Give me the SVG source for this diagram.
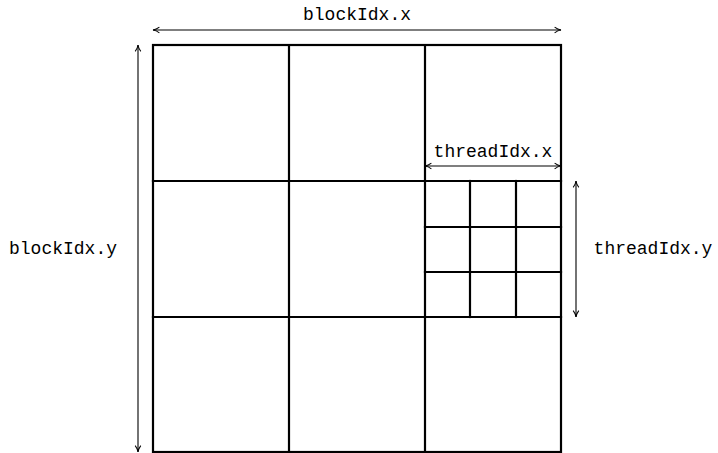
<svg xmlns="http://www.w3.org/2000/svg" width="718" height="453" viewBox="0 0 718 453">
<style>
.g{stroke:#000;stroke-width:2.2;fill:none;stroke-linecap:square}
.a{stroke:#000;stroke-width:1.1;fill:none}
text{font-family:"Liberation Mono","DejaVu Sans Mono",monospace;font-size:18px;fill:#000}
</style>
<defs>
<marker id="ah" viewBox="0 0 10 10" refX="9" refY="5" markerWidth="8" markerHeight="8" markerUnits="userSpaceOnUse" orient="auto-start-reverse">
<path d="M1,1.5 Q5,4.5 9,5 Q5,5.5 1,8.5" fill="none" stroke="#000" stroke-width="1.3"/>
</marker>
</defs>
<g id="grid">
<rect class="g" x="153" y="45" width="408" height="407"/>
<line class="g" x1="289" y1="45" x2="289" y2="452"/>
<line class="g" x1="425" y1="45" x2="425" y2="452"/>
<line class="g" x1="153" y1="181" x2="561" y2="181"/>
<line class="g" x1="153" y1="317" x2="561" y2="317"/>
</g>
<g id="threadblock">
<line class="g" x1="470" y1="181" x2="470" y2="317"/>
<line class="g" x1="516" y1="181" x2="516" y2="317"/>
<line class="g" x1="425" y1="227" x2="561" y2="227"/>
<line class="g" x1="425" y1="272" x2="561" y2="272"/>
</g>
<g id="connectors">
<line class="a" x1="153" y1="30" x2="561" y2="30" marker-start="url(#ah)" marker-end="url(#ah)"/>
<line class="a" x1="138" y1="45" x2="138" y2="452" marker-start="url(#ah)" marker-end="url(#ah)"/>
<line class="a" x1="425" y1="166" x2="561" y2="166" marker-start="url(#ah)" marker-end="url(#ah)"/>
<line class="a" x1="576" y1="181" x2="576" y2="317" marker-start="url(#ah)" marker-end="url(#ah)"/>
</g>
<g id="labels">
<text x="357" y="20" text-anchor="middle">blockIdx.x</text>
<text x="63" y="254" text-anchor="middle">blockIdx.y</text>
<text x="493" y="157" text-anchor="middle">threadIdx.x</text>
<text x="653" y="254" text-anchor="middle">threadIdx.y</text>
</g>
</svg>
